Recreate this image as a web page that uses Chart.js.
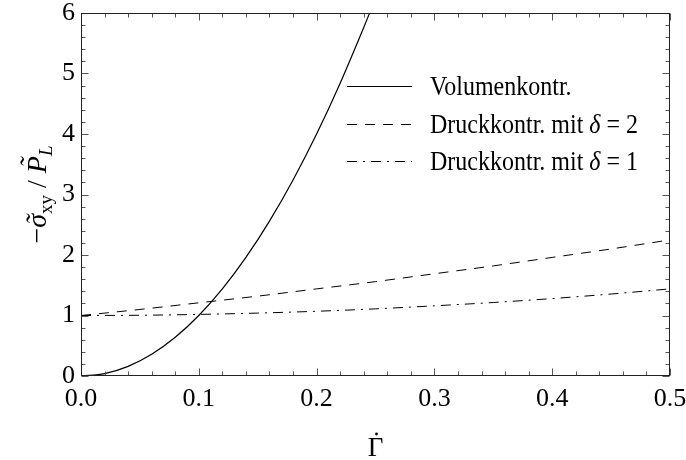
<!DOCTYPE html>
<html>
<head>
<meta charset="utf-8">
<script src="https://cdn.jsdelivr.net/npm/chart.js@4/dist/chart.umd.min.js"></script>
<style>
  html, body { margin: 0; padding: 0; background: #fff; }
  #wrap { width: 686px; height: 460px; }
</style>
</head>
<body>
<div id="wrap"><canvas id="c" width="686" height="460"></canvas></div>
<script>
// Shear rate Γ̇ and reduced shear stress for the three control modes
const gammaVol     = [0, 0.02, 0.04, 0.06, 0.08, 0.10, 0.12, 0.14, 0.16, 0.18, 0.20, 0.22, 0.24, 0.245];
const stressVol    = [0, 0.04, 0.16, 0.36, 0.64, 1.00, 1.44, 1.96, 2.56, 3.24, 4.00, 4.84, 5.76, 6.00];
const gammaDruck   = [0, 0.05, 0.10, 0.15, 0.20, 0.25, 0.30, 0.35, 0.40, 0.45, 0.50];
const stressDelta2 = [1.00, 1.10, 1.21, 1.32, 1.44, 1.56, 1.69, 1.82, 1.96, 2.10, 2.25];
const stressDelta1 = [1.00, 1.004, 1.018, 1.04, 1.07, 1.11, 1.16, 1.215, 1.28, 1.355, 1.44];
const xTicks = [0, 0.1, 0.2, 0.3, 0.4, 0.5];
const yTicks = [0, 1, 2, 3, 4, 5, 6];
const seriesLabels = ['Volumenkontr.', 'Druckkontr. mit δ = 2', 'Druckkontr. mit δ = 1'];

const SERIF = "'Liberation Serif', 'Times New Roman', serif";
const toPoints = (xs, ys) => xs.map((x, i) => ({ x, y: ys[i] }));

// Boxed frame with inward major/minor ticks on all four sides
const framePlugin = {
  id: 'frame',
  afterDatasetsDraw(chart) {
    const { ctx, chartArea: a, scales: { x, y } } = chart;
    const L = Math.round(a.left) + 0.5, R = Math.round(a.right) - 0.5;
    const T = Math.round(a.top) + 0.5, B = Math.round(a.bottom) - 0.5;
    ctx.save();
    ctx.lineWidth = 1;
    ctx.strokeStyle = '#555';
    for (let i = 0; i <= 25; i++) {
      const px = Math.round(x.getPixelForValue(i * 0.02)) + 0.5;
      const len = i % 5 === 0 ? 7 : 4;
      ctx.beginPath();
      ctx.moveTo(px, B); ctx.lineTo(px, B - len);
      ctx.moveTo(px, T); ctx.lineTo(px, T + len);
      ctx.stroke();
    }
    for (let i = 0; i <= 30; i++) {
      const py = Math.round(y.getPixelForValue(i * 0.2)) + 0.5;
      const len = i % 5 === 0 ? 7 : 4;
      ctx.beginPath();
      ctx.moveTo(L, py); ctx.lineTo(L + len, py);
      ctx.moveTo(R, py); ctx.lineTo(R - len, py);
      ctx.stroke();
    }
    ctx.strokeStyle = '#222';
    ctx.strokeRect(L, T, R - L, B - T);
    ctx.restore();
  }
};

// Draws a run of text pieces (regular / italic / subscript / tilde accent)
function drawRuns(ctx, runs, cx, baseY) {
  let total = 0;
  runs.forEach(r => { ctx.font = r.font; r.w = ctx.measureText(r.t).width; total += r.w; });
  let xPos = cx - total / 2;
  ctx.textBaseline = 'alphabetic';
  ctx.textAlign = 'left';
  runs.forEach(r => {
    ctx.font = r.font;
    ctx.fillText(r.t, xPos, baseY + (r.dy || 0));
    if (r.tilde) {
      ctx.textAlign = 'center';
      ctx.font = r.tildeFont || r.font;
      ctx.fillText('˜', xPos + r.w / 2 + (r.tildeDx || 0), baseY + (r.tildeDy || 0));
      ctx.textAlign = 'left';
    }
    xPos += r.w;
  });
}

// Axis titles: −σ̃_xy / P̃_L on the left, Γ̇ below
const titlesPlugin = {
  id: 'titles',
  afterDraw(chart) {
    const { ctx, chartArea: a } = chart;
    ctx.save();
    ctx.fillStyle = '#000';
    const reg = `28px ${SERIF}`, ita = `italic 28px ${SERIF}`;
    const sub = `19px ${SERIF}`, subIta = `italic 19px ${SERIF}`;
    ctx.translate(46, (a.top + a.bottom) / 2);
    ctx.rotate(-Math.PI / 2);
    drawRuns(ctx, [
      { t: '−', font: reg },
      { t: 'σ', font: ita, tilde: true, tildeDx: 1, tildeDy: -1 },
      { t: 'xy', font: sub, dy: 6 },
      { t: ' / ', font: reg },
      { t: 'P', font: ita, tilde: true, tildeDx: 2, tildeDy: -7 },
      { t: 'L', font: subIta, dy: 6 }
    ], 0, 0);
    ctx.restore();

    ctx.save();
    ctx.fillStyle = '#000';
    ctx.font = `27px ${SERIF}`;
    ctx.textAlign = 'center';
    ctx.textBaseline = 'alphabetic';
    const gx = (a.left + a.right) / 2;
    ctx.fillText('Γ', gx, 456);
    ctx.beginPath();
    ctx.arc(gx + 1, 434, 1.4, 0, Math.PI * 2);
    ctx.fill();
    ctx.restore();
  }
};

// Legend drawn inside the plot area, with italic δ
const legendPlugin = {
  id: 'insideLegend',
  afterDraw(chart) {
    const { ctx } = chart;
    const x0 = 347, x1 = 412, tx = 430, rowTop = 86, rowStep = 37.5;
    ctx.save();
    chart.data.datasets.forEach((ds, i) => {
      const yy = Math.round(rowTop + i * rowStep) + 0.5;
      ctx.strokeStyle = ds.borderColor;
      ctx.lineWidth = ds.borderWidth;
      ctx.setLineDash(ds.borderDash || []);
      ctx.beginPath();
      ctx.moveTo(x0, yy); ctx.lineTo(x1, yy);
      ctx.stroke();
      ctx.setLineDash([]);
      const parts = ds.label.split('δ');
      const runs = [{ t: parts[0], font: `24px ${SERIF}` }];
      if (parts.length > 1) {
        runs.push({ t: 'δ', font: `italic 24px ${SERIF}` });
        runs.push({ t: parts[1], font: `24px ${SERIF}` });
      }
      ctx.save();
      ctx.translate(tx, yy + 8);
      ctx.scale(1, 1.12);
      ctx.fillStyle = '#000';
      ctx.textBaseline = 'alphabetic';
      ctx.textAlign = 'left';
      let xp = 0;
      runs.forEach(r => {
        ctx.font = r.font;
        ctx.fillText(r.t, xp, 0);
        xp += ctx.measureText(r.t).width;
      });
      ctx.restore();
    });
    ctx.restore();
  }
};

new Chart(document.getElementById('c'), {
  type: 'line',
  data: {
    datasets: [
      {
        label: seriesLabels[0],
        data: toPoints(gammaVol, stressVol),
        borderColor: '#000', borderWidth: 1.2, borderDash: [],
        pointRadius: 0, cubicInterpolationMode: 'monotone', fill: false
      },
      {
        label: seriesLabels[1],
        data: toPoints(gammaDruck, stressDelta2),
        borderColor: '#000', borderWidth: 1, borderDash: [10, 8],
        pointRadius: 0, cubicInterpolationMode: 'monotone', fill: false
      },
      {
        label: seriesLabels[2],
        data: toPoints(gammaDruck, stressDelta1),
        borderColor: '#000', borderWidth: 1, borderDash: [10, 6, 2, 6],
        pointRadius: 0, cubicInterpolationMode: 'monotone', fill: false
      }
    ]
  },
  options: {
    responsive: false,
    animation: false,
    devicePixelRatio: 1,
    layout: { padding: { left: 0, top: 13, right: 16, bottom: 0 } },
    plugins: { legend: { display: false }, tooltip: { enabled: false } },
    scales: {
      x: {
        type: 'linear', min: 0, max: 0.5,
        afterBuildTicks: s => { s.ticks = xTicks.map(v => ({ value: v })); },
        afterFit: s => { s.height = 84; s.paddingLeft = 0; s.paddingRight = 0; },
        grid: { display: false, drawTicks: false },
        border: { display: false },
        ticks: {
          callback: v => Number(v).toFixed(1),
          color: '#000', padding: 10, maxRotation: 0, autoSkip: false,
          font: { family: SERIF, size: 26, lineHeight: 1 }
        }
      },
      y: {
        type: 'linear', min: 0, max: 6,
        afterBuildTicks: s => { s.ticks = yTicks.map(v => ({ value: v })); },
        afterFit: s => { s.width = 81; s.paddingTop = 0; s.paddingBottom = 0; },
        grid: { display: false, drawTicks: false },
        border: { display: false },
        ticks: {
          callback: v => String(v),
          color: '#000', padding: 6, autoSkip: false,
          font: { family: SERIF, size: 26, lineHeight: 1 }
        }
      }
    }
  },
  plugins: [framePlugin, titlesPlugin, legendPlugin]
});
</script>
</body>
</html>
